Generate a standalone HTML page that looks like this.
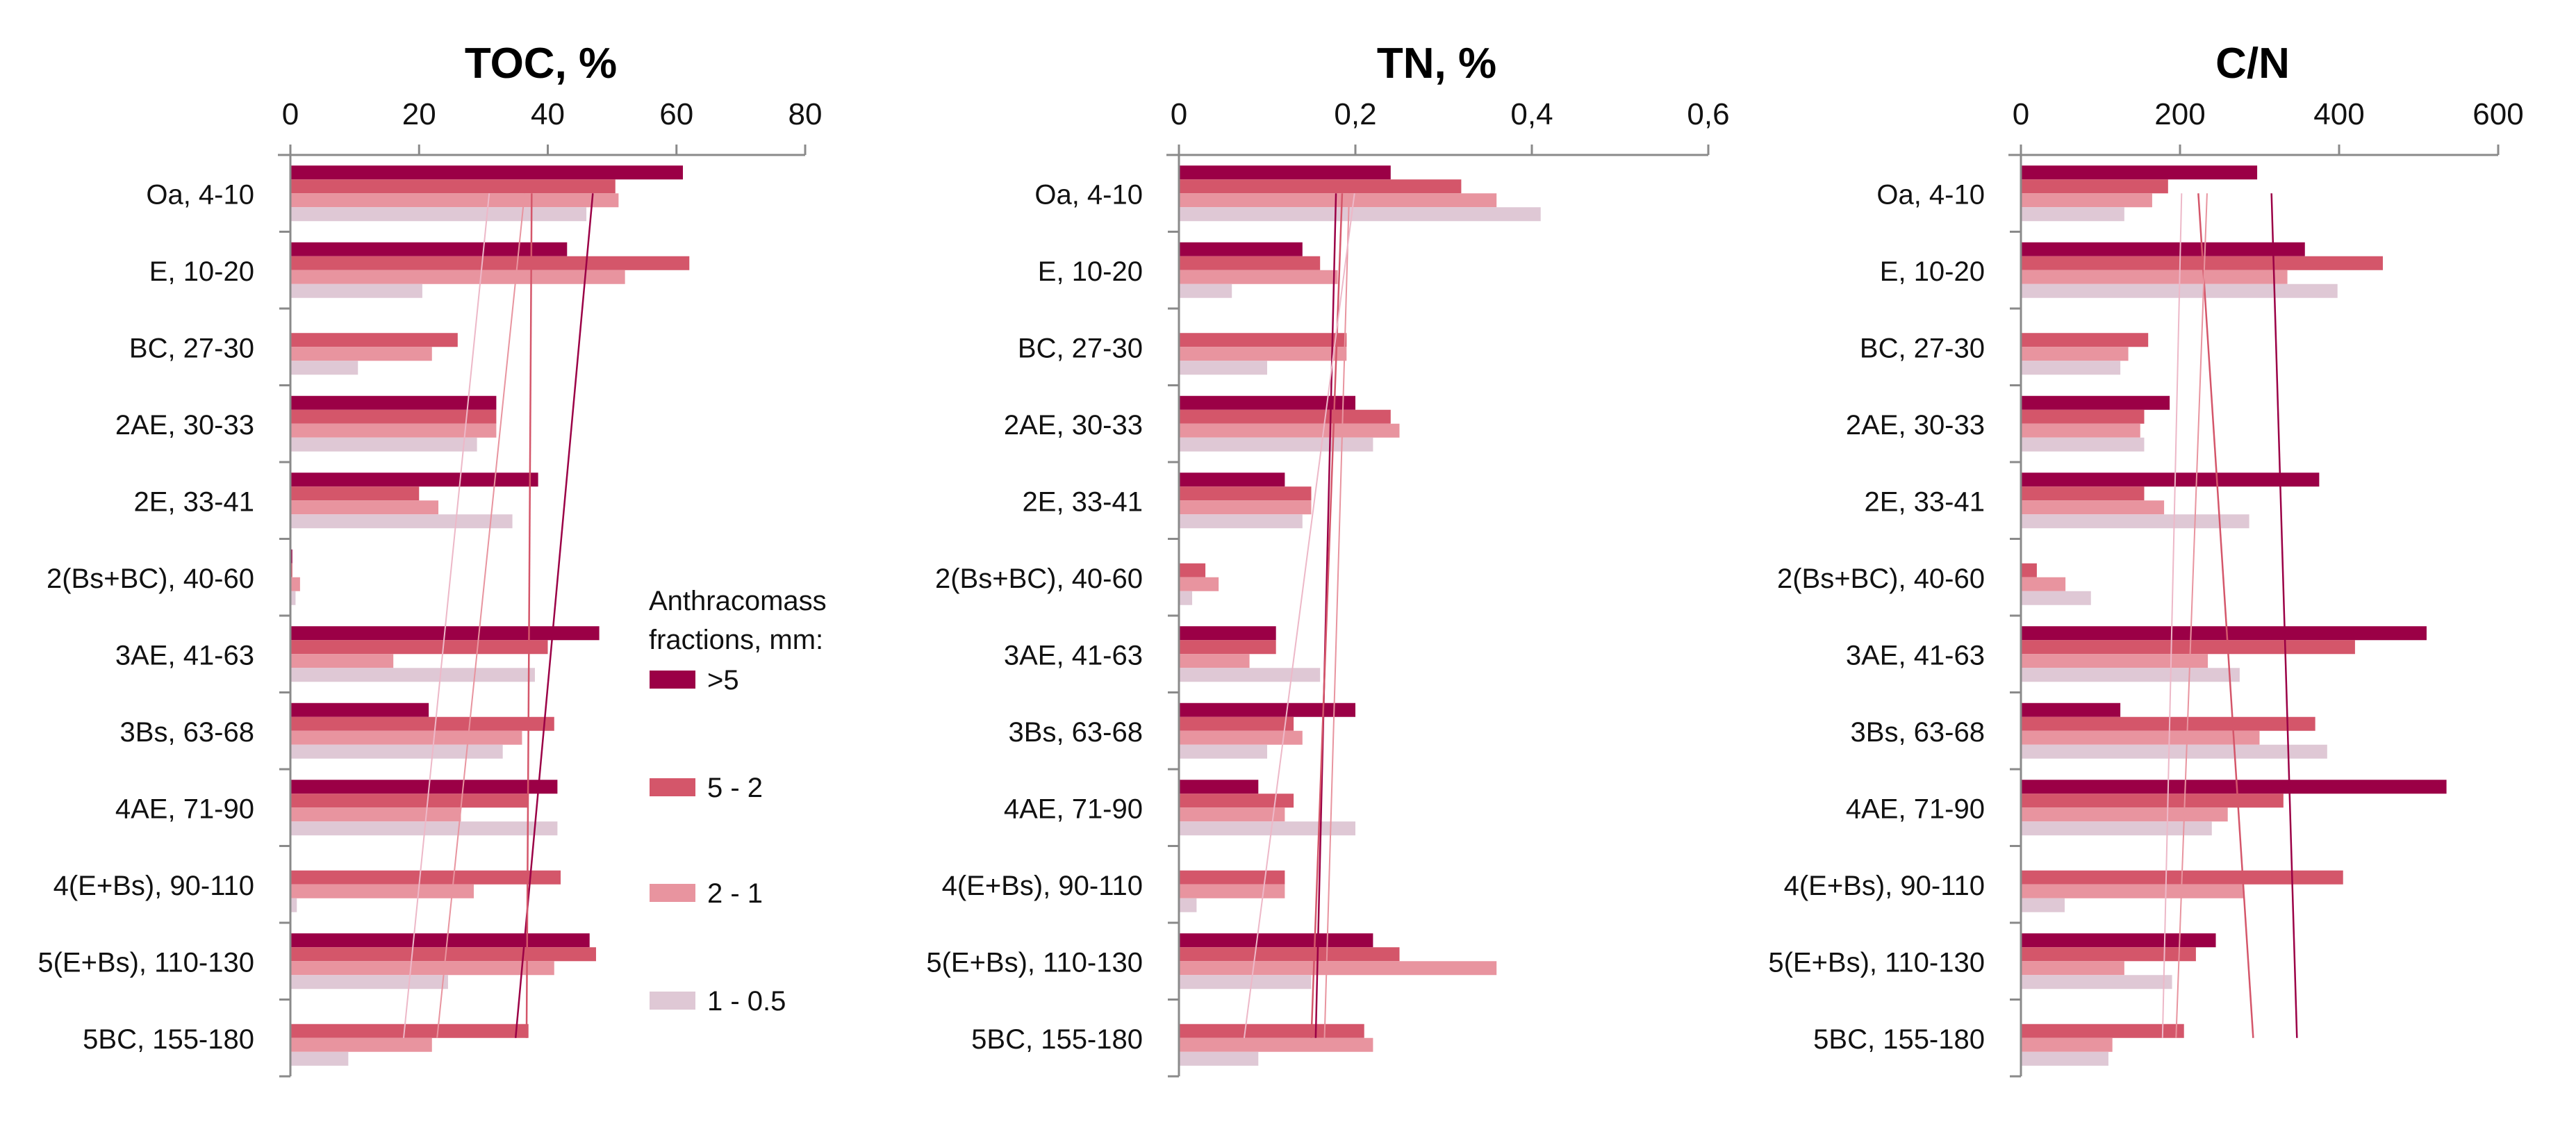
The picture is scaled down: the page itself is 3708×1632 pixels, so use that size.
<!DOCTYPE html>
<html><head><meta charset="utf-8"><style>
html,body{margin:0;padding:0;background:#fff;}
svg{display:block;font-family:"Liberation Sans",sans-serif;}
</style></head><body>
<svg id="chart" width="3708" height="1632" viewBox="0 0 3708 1632" xmlns="http://www.w3.org/2000/svg">
<g>
<text x="934" y="878" font-size="40" fill="#111">Anthracomass</text>
<text x="934" y="934" font-size="40" fill="#111">fractions, mm:</text>
<rect x="935" y="965" width="66" height="26" fill="#9B0046"/>
<text x="1018" y="992" font-size="40" fill="#111">&gt;5</text>
<rect x="935" y="1120" width="66" height="26" fill="#D4566A"/>
<text x="1018" y="1147" font-size="40" fill="#111">5 - 2</text>
<rect x="935" y="1272" width="66" height="26" fill="#E8949F"/>
<text x="1018" y="1299" font-size="40" fill="#111">2 - 1</text>
<rect x="935" y="1427" width="66" height="26" fill="#DFC8D5"/>
<text x="1018" y="1454" font-size="40" fill="#111">1 - 0.5</text>
</g>
</svg>
<script>
const categories = ["Oa, 4-10","E, 10-20","BC, 27-30","2AE, 30-33","2E, 33-41","2(Bs+BC), 40-60","3AE, 41-63","3Bs, 63-68","4AE, 71-90","4(E+Bs), 90-110","5(E+Bs), 110-130","5BC, 155-180"];
const seriesNames = [">5","5 - 2","2 - 1","1 - 0.5"];
const seriesColors = ["#9B0046","#D4566A","#E8949F","#DFC8D5"];
// TOC, %
const tocGt5 = [61,43,0,32,38.5,0.3,48,21.5,41.5,0,46.5,0];
const toc5_2 = [50.5,62,26,32,20,0.3,40,41,37,42,47.5,37];
const toc2_1 = [51,52,22,32,23,1.5,16,36,26.5,28.5,41,22];
const toc1_05 = [46,20.5,10.5,29,34.5,0.8,38,33,41.5,1,24.5,9];
const tocTicks = ["0","20","40","60","80"];
const tocTrendStart = [47,37.5,36.4,30.9];
const tocTrendEnd = [35,36.7,22.8,17.6];
// TN, %
const tnGt5 = [0.24,0.14,0,0.20,0.12,0,0.11,0.20,0.09,0,0.22,0];
const tn5_2 = [0.32,0.16,0.19,0.24,0.15,0.03,0.11,0.13,0.13,0.12,0.25,0.21];
const tn2_1 = [0.36,0.18,0.19,0.25,0.15,0.045,0.08,0.14,0.12,0.12,0.36,0.22];
const tn1_05 = [0.41,0.06,0.10,0.22,0.14,0.015,0.16,0.10,0.20,0.02,0.15,0.09];
const tnTicks = ["0","0,2","0,4","0,6"];
const tnTrendStart = [0.178,0.185,0.193,0.199];
const tnTrendEnd = [0.155,0.150,0.165,0.074];
// C/N
const cnGt5 = [297,357,0,187,375,0,510,125,535,0,245,0];
const cn5_2 = [185,455,160,155,155,20,420,370,330,405,220,205];
const cn2_1 = [165,335,135,150,180,56,235,300,260,280,130,115];
const cn1_05 = [130,398,125,155,287,88,275,385,240,55,190,110];
const cnTicks = ["0","200","400","600"];
const cnTrendStart = [315,223,234,202];
const cnTrendEnd = [347,292,195,178];

const NS="http://www.w3.org/2000/svg";
const svg=document.getElementById('chart');
function mk(tag,attrs,parent){const e=document.createElementNS(NS,tag);for(const k in attrs)e.setAttribute(k,attrs[k]);parent.appendChild(e);return e;}
const axisTop=223, band=110.5, barH=20;
function panel(name,title,x0,x1,max,ticks,series,tStart,tEnd){
  const g=mk('g',{},svg);
  
  
  const xs=v=>x0+(v/max)*(x1-x0);
  const yc=i=>axisTop+band*(i+0.5);
  const t=mk('text',{x:(x0+x1)/2-10,y:112,'font-size':62,'font-weight':'bold','text-anchor':'middle',fill:'#000'},g);
  t.textContent=title;
  
  
  series.forEach((arr,s)=>{arr.forEach((v,i)=>{
    if(v<=0)return;
    const r=mk('rect',{x:x0,y:yc(i)-2*barH+s*barH,width:xs(v)-x0,height:barH,fill:seriesColors[s]},g);
    
    
  });});
  const tw=[2.5,2.5,2,2];
  tStart.forEach((v,s)=>{
    const l=mk('line',{x1:xs(v),y1:yc(0),x2:xs(tEnd[s]),y2:yc(categories.length-1),stroke:seriesColors[s]==="#DFC8D5"?"#EDB8C8":seriesColors[s],'stroke-width':tw[s]},g);
    
    
  });
  const ax=mk('line',{x1:x0-18,y1:axisTop,x2:x1,y2:axisTop,stroke:'#8a8a8a','stroke-width':3},g);
  
  
  const ay=mk('line',{x1:x0,y1:axisTop,x2:x0,y2:axisTop+band*categories.length,stroke:'#8a8a8a','stroke-width':3},g);
  
  
  ticks.forEach((lab,k)=>{
    const x=x0+k*(x1-x0)/(ticks.length-1);
    mk('line',{x1:x,y1:axisTop-15,x2:x,y2:axisTop,stroke:'#8a8a8a','stroke-width':3},g);
    const tl=mk('text',{x:x,y:179,'font-size':44,'text-anchor':'middle',fill:'#111'},g);
    tl.textContent=lab;
    
    
  });
  for(let i=0;i<=categories.length;i++){
    mk('line',{x1:x0-16,y1:axisTop+band*i,x2:x0,y2:axisTop+band*i,stroke:'#8a8a8a','stroke-width':3},g);
  }
  categories.forEach((c,i)=>{
    const cl=mk('text',{x:x0-52,y:yc(i)+15,'font-size':40,'text-anchor':'end',fill:'#111'},g);
    cl.textContent=c;
    
    
  });
}
panel('toc','TOC, %',418,1159,80,tocTicks,[tocGt5,toc5_2,toc2_1,toc1_05],tocTrendStart,tocTrendEnd);
panel('tn','TN, %',1697,2459,0.6,tnTicks,[tnGt5,tn5_2,tn2_1,tn1_05],tnTrendStart,tnTrendEnd);
panel('cn','C/N',2909,3596,600,cnTicks,[cnGt5,cn5_2,cn2_1,cn1_05],cnTrendStart,cnTrendEnd);
</script>
</body></html>
